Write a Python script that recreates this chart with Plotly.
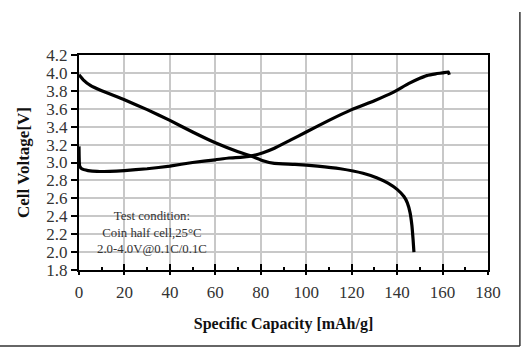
import plotly.graph_objects as go

# Discharge curve (4.0 V -> 2.0 V)
discharge_cap = [0, 2, 5, 10, 20, 30, 40, 50, 60, 70, 76, 81, 86, 95, 105, 115, 125, 131, 136, 140, 143, 144.5, 145.7, 146.5, 147.0, 147.4]
discharge_v = [3.98, 3.92, 3.86, 3.80, 3.70, 3.59, 3.47, 3.34, 3.22, 3.12, 3.07, 3.02, 2.99, 2.98, 2.96, 2.93, 2.88, 2.83, 2.77, 2.70, 2.62, 2.55, 2.44, 2.30, 2.15, 2.00]

# Charge curve (2.9 V -> 4.0 V)
charge_cap = [0, 0.3, 1.2, 4, 8, 20, 30, 40, 50, 60, 66, 72, 77, 81, 86, 93, 100, 110, 120, 130, 138, 145, 150, 153, 157, 160, 162.5, 163]
charge_v = [3.18, 2.96, 2.93, 2.91, 2.90, 2.91, 2.93, 2.96, 3.00, 3.03, 3.05, 3.06, 3.08, 3.11, 3.16, 3.25, 3.34, 3.47, 3.59, 3.69, 3.78, 3.88, 3.94, 3.97, 3.99, 4.00, 4.01, 3.98]

x_ticks = [0, 20, 40, 60, 80, 100, 120, 140, 160, 180]
y_ticks = [1.8, 2.0, 2.2, 2.4, 2.6, 2.8, 3.0, 3.2, 3.4, 3.6, 3.8, 4.0, 4.2]

serif = "Liberation Serif, Times New Roman, serif"

fig = go.Figure()
fig.add_trace(go.Scatter(x=discharge_cap, y=discharge_v, mode="lines",
                         line=dict(color="black", width=3.2, shape="spline", smoothing=0.4),
                         showlegend=False))
fig.add_trace(go.Scatter(x=charge_cap, y=charge_v, mode="lines",
                         line=dict(color="black", width=3.2, shape="spline", smoothing=0.4),
                         showlegend=False))
# invisible trace to carry the secondary x axis (outer half of major ticks)
fig.add_trace(go.Scatter(x=[0, 180], y=[1.8, 1.8], xaxis="x2", mode="lines",
                         line=dict(width=0), hoverinfo="skip", showlegend=False))

fig.update_layout(
    width=521, height=347,
    margin=dict(l=79, r=33, t=55, b=77),
    paper_bgcolor="white", plot_bgcolor="white",
    font=dict(family=serif, color="#222"),
    xaxis=dict(
        range=[0, 180], tickvals=x_ticks, ticks="inside", ticklen=6, tickwidth=1.5,
        tickcolor="black", ticklabelstandoff=6,
        minor=dict(dtick=10, ticks="inside", ticklen=3, tickwidth=1.5, tickcolor="black", showgrid=False),
        showline=True, linecolor="black", linewidth=2, mirror=True,
        showgrid=True, gridcolor="#c8c8c8", gridwidth=1.5,
        tickfont=dict(size=17, family=serif, color="#333"),
        title=dict(text="<b>Specific Capacity [mAh/g]</b>", font=dict(size=16, family=serif, color="#111"),
                   standoff=16),
        zeroline=False,
    ),
    xaxis2=dict(
        range=[0, 180], overlaying="x", side="bottom", anchor="y",
        tickvals=x_ticks, ticks="outside", ticklen=4, tickwidth=1.5, tickcolor="black",
        showticklabels=False, showgrid=False, showline=False, zeroline=False,
    ),
    yaxis=dict(
        range=[1.8, 4.2], tickvals=y_ticks, tickformat=".1f", ticks="outside", ticklen=6,
        tickwidth=1.5, tickcolor="black",
        showline=True, linecolor="black", linewidth=2, mirror=True,
        showgrid=True, gridcolor="#c8c8c8", gridwidth=1.5,
        tickfont=dict(size=17, family=serif, color="#333"),
        title=dict(text="<b>Cell Voltage[V]</b>", font=dict(size=17, family=serif, color="#111"),
                   standoff=12),
        zeroline=False,
    ),
    annotations=[
        dict(text="Test condition:<br>Coin half cell,25°C<br>2.0-4.0V@0.1C/0.1C",
             x=32, y=2.22, xref="x", yref="y", showarrow=False, align="center",
             font=dict(size=12.8, family=serif, color="#333")),
    ],
    shapes=[
        dict(type="line", xref="paper", yref="paper", x0=1.078, x1=1.078, y0=1.2, y1=-0.353,
             line=dict(color="#333", width=1.5)),
        dict(type="line", xref="paper", yref="paper", x0=-0.4, x1=1.078, y0=-0.353, y1=-0.353,
             line=dict(color="#333", width=1.5)),
    ],
)

fig.write_html("out.html")
